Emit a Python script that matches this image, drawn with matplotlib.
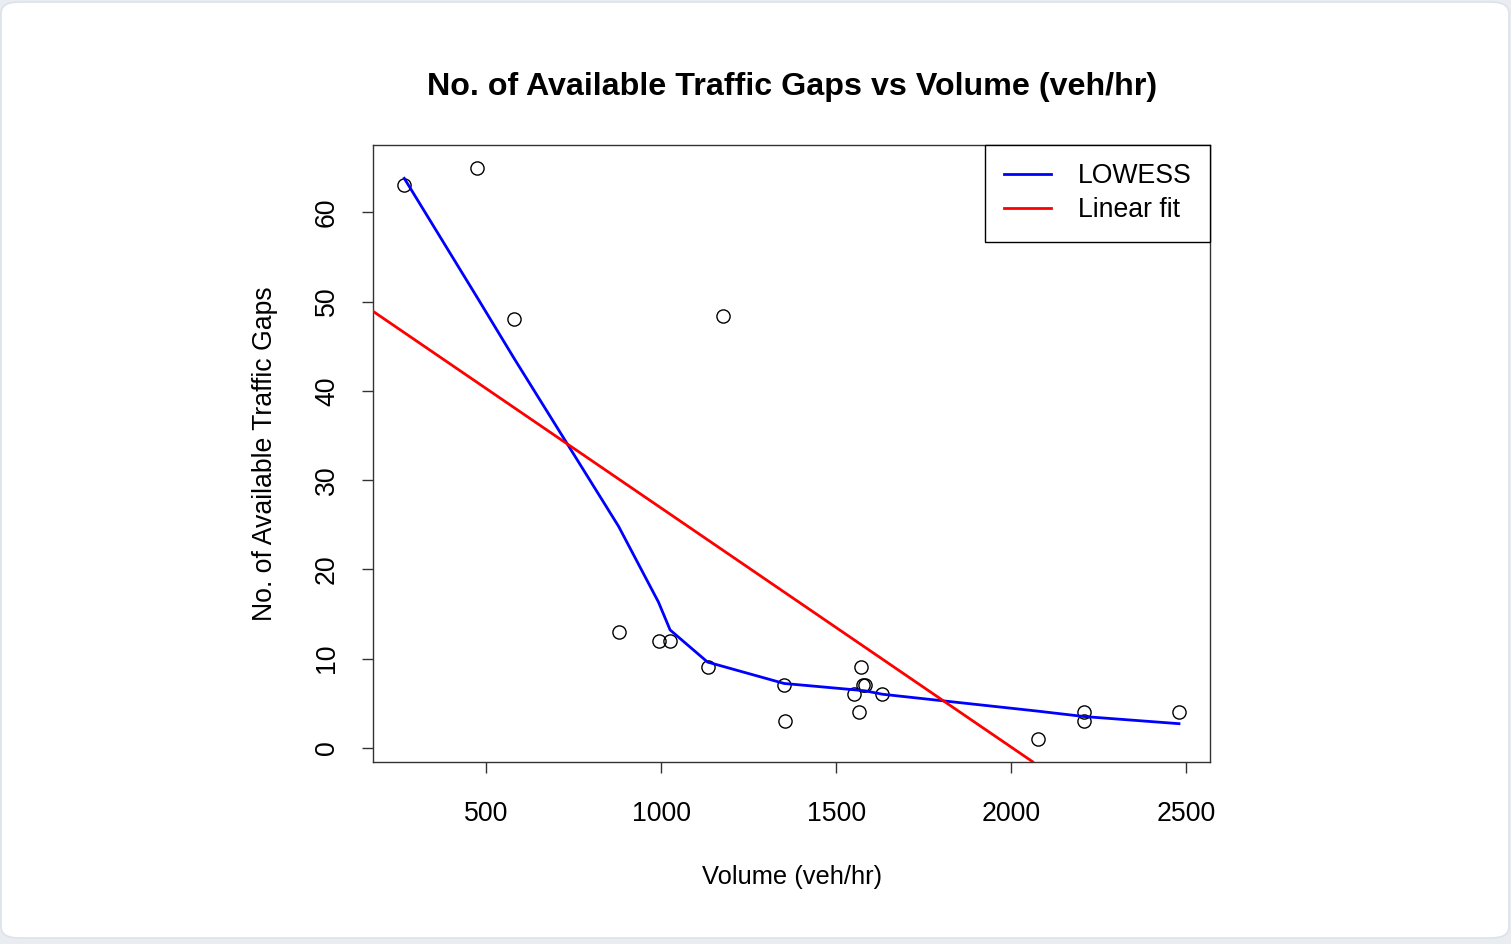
import numpy as np
import matplotlib
matplotlib.use("Agg")
import matplotlib.pyplot as plt
from matplotlib.patches import FancyBboxPatch

plt.rcParams['font.family'] = ['Liberation Sans', 'DejaVu Sans']

# data
volume = [267, 476, 581, 1177, 879, 993, 1026, 1133, 1352, 1353,
          1570, 1577, 1583, 1551, 1565, 1632, 2077, 2208, 2208, 2479]
gaps = [63, 65, 48, 48.4, 13, 12, 12, 9, 7, 3,
        9, 7, 7, 6, 4, 6, 1, 4, 3, 4]

# lowess curve (values at sorted volume)
lowess_x = [267, 476, 581, 879, 993, 1026, 1133, 1352, 1353, 1551,
            1565, 1570, 1577, 1583, 1632, 2077, 2208, 2208, 2479]
lowess_y = [63.8, 50.4, 43.6, 24.8, 16.3, 13.2, 9.6, 7.2, 7.2, 6.5,
            6.45, 6.42, 6.4, 6.38, 6.0, 4.1, 3.5, 3.5, 2.7]

x_ticks = [500, 1000, 1500, 2000, 2500]
y_ticks = [0, 10, 20, 30, 40, 50, 60]

W, H = 1511, 944
fig = plt.figure(figsize=(W / 100, H / 100), dpi=100)
fig.patch.set_facecolor('#e9edf2')
card = FancyBboxPatch((1 / W, 6 / H), 1 - 3 / W, 1 - 8 / H,
                      boxstyle="round,pad=0,rounding_size=0.012",
                      transform=fig.transFigure, facecolor='white',
                      edgecolor='#dde2ea', lw=1.2, zorder=-10)
fig.patches.append(card)

left, right, top, bottom = 373.3, 1210, 144.8, 761.7
ax = fig.add_axes([left / W, 1 - bottom / H, (right - left) / W, (bottom - top) / H])
ax.set_zorder(5)
ax.set_facecolor('white')

ax.plot(volume, gaps, 'o', mfc='none', mec='black', ms=9.5, mew=1.0, zorder=3)
ax.plot(lowess_x, lowess_y, color='blue', lw=2, label='LOWESS', zorder=4)

slope, icpt = np.polyfit(volume, gaps, 1)
ax.axline((0, icpt), slope=slope, color='red', lw=2, label='Linear fit', zorder=5)

# R style 4% padding
xr = max(volume) - min(volume)
yr = max(gaps) - min(gaps)
ax.set_xlim(min(volume) - 0.04 * xr, max(volume) + 0.04 * xr)
ax.set_ylim(min(gaps) - 0.04 * yr, max(gaps) + 0.04 * yr)

ax.set_xticks(x_ticks)
ax.set_yticks(y_ticks)
ax.tick_params(axis='both', direction='out', length=8, width=1, color='#333333',
               labelsize=19.2, top=False, right=False)
ax.tick_params(axis='x', pad=20.5)
ax.tick_params(axis='y', pad=16)
for lab in ax.get_yticklabels():
    lab.set_rotation(90)
    lab.set_va('center')
for s in ax.spines.values():
    s.set_color('#333333')
    s.set_linewidth(1.0)

ax.set_title('No. of Available Traffic Gaps vs Volume (veh/hr)', fontsize=23.2,
             fontweight='bold', pad=36)
ax.set_xlabel('Volume (veh/hr)', fontsize=18.4, labelpad=27.5)
ax.set_ylabel('No. of Available Traffic Gaps', fontsize=19.2, labelpad=26)

leg = ax.legend(loc='upper right', borderaxespad=0, fontsize=19.2, fancybox=False,
                edgecolor='black', framealpha=1, handlelength=1.76,
                handletextpad=1.0, borderpad=0.7, labelspacing=0.3)
leg.get_frame().set_linewidth(1.0)

fig.savefig('out.png', dpi=100, facecolor=fig.get_facecolor())
